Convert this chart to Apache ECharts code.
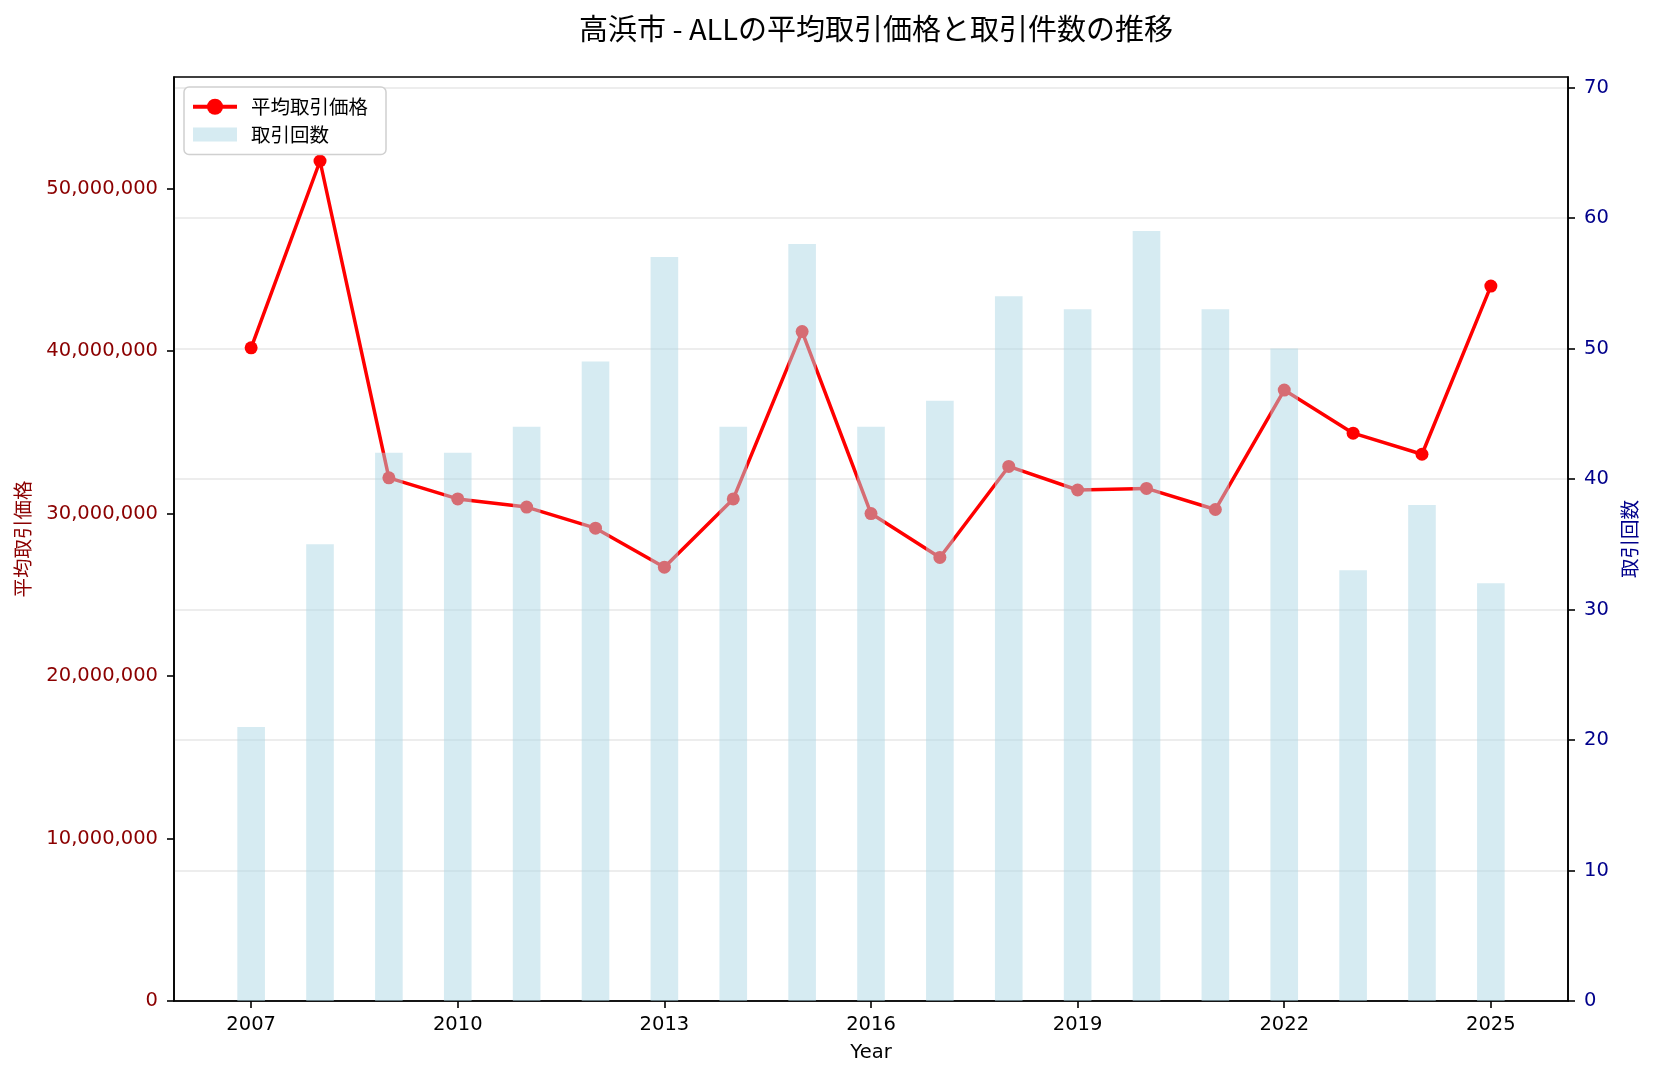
<!DOCTYPE html>
<html><head><meta charset="utf-8">
<script src="https://cdn.jsdelivr.net/npm/echarts@6/dist/echarts.min.js"></script>
<style>html,body{margin:0;padding:0;background:#fff}#c{width:1653px;height:1079px}</style>
</head><body><div id="c"></div>
<script>
const years = [2007,2008,2009,2010,2011,2012,2013,2014,2015,2016,2017,2018,2019,2020,2021,2022,2023,2024,2025];
const avgPrice = [40200000,51700000,32200000,30900000,30400000,29100000,26700000,30900000,41200000,30000000,27300000,32900000,31450000,31550000,30250000,37600000,34950000,33650000,44000000];
const counts = [21,35,42,42,44,49,57,44,58,44,46,54,53,59,53,50,33,38,32];
const xTicks = [2007,2010,2013,2016,2019,2022,2025];
const leftTicks = [0,10000000,20000000,30000000,40000000,50000000];
const rightTicks = [0,10,20,30,40,50,60,70];

const titleText = '高浜市 - ALLの平均取引価格と取引件数の推移';
const priceName = '平均取引価格';
const countName = '取引回数';
const xName = 'Year';

const CJK = '"Noto Sans CJK JP", "DejaVu Sans", sans-serif';
const LAT = '"DejaVu Sans", sans-serif';

const chart = echarts.init(document.getElementById('c'), null, {renderer: 'canvas'});
chart.setOption({
  animation: false,
  backgroundColor: '#fff',
  title: {
    text: titleText, left: 871, top: 9, textAlign: 'center',
    textStyle: {fontSize: 29, fontWeight: 'normal', color: '#000', fontFamily: CJK}
  },
  legend: {
    orient: 'vertical', left: 184, top: 87,
    backgroundColor: '#fff', borderColor: '#d0d0d0', borderWidth: 1.5, borderRadius: 5,
    padding: [10, 18, 10, 7], itemWidth: 44, itemHeight: 20, itemGap: 8,
    textStyle: {fontSize: 19.5, color: '#000', fontFamily: CJK, padding: [0,0,0,9]},
    data: [
      {name: priceName, lineStyle: {width: 4}},
      {name: countName, icon: 'path://M0,0L0.01,0M0,3L44,3L44,17L0,17ZM0,20L0.01,20'}
    ]
  },
  grid: {left: 174, right: 85, top: 77, bottom: 78, show: true, borderColor: '#000', borderWidth: 1.6, backgroundColor: 'transparent'},
  xAxis: {
    type: 'value', min: 2005.88, max: 2026.12,
    axisLine: {show: true, lineStyle: {color: '#000', width: 1.6}},
    axisTick: {show: true, length: 7, customValues: xTicks, lineStyle: {color: '#000', width: 1.6}},
    axisLabel: {customValues: xTicks, color: '#000', fontSize: 19.5, fontFamily: LAT, margin: 14, formatter: v => String(v)},
    splitLine: {show: false},
    name: xName, nameLocation: 'middle', nameGap: 42,
    nameTextStyle: {fontSize: 19.5, color: '#000', fontFamily: LAT}
  },
  yAxis: [{
    type: 'value', min: 0, max: v => v.max * 1.1, position: 'left',
    axisLine: {show: true, lineStyle: {color: '#000', width: 1.6}},
    axisTick: {show: true, length: 7, customValues: leftTicks, lineStyle: {color: '#000', width: 1.6}},
    axisLabel: {customValues: leftTicks, color: '#8B0000', fontSize: 19.5, fontFamily: LAT, margin: 16,
      formatter: v => Math.round(v).toLocaleString('en-US')},
    splitLine: {show: false},
    name: priceName, nameLocation: 'middle', nameRotate: 90, nameGap: 142,
    nameTextStyle: {fontSize: 19.5, color: '#8B0000', fontFamily: CJK}
  }, {
    type: 'value', min: 0, max: v => v.max * 1.2, interval: 10, position: 'right',
    axisLine: {show: true, lineStyle: {color: '#000', width: 1.6}},
    axisTick: {show: true, length: 7, customValues: rightTicks, lineStyle: {color: '#000', width: 1.6}},
    axisLabel: {customValues: rightTicks, color: '#00008B', fontSize: 19.5, fontFamily: LAT, margin: 16},
    splitLine: {show: true, lineStyle: {color: 'rgba(176,176,176,0.3)', width: 1.6}},
    name: countName, nameLocation: 'middle', nameRotate: 90, nameGap: 46,
    nameTextStyle: {fontSize: 19.5, color: '#00008B', fontFamily: CJK}
  }],
  series: [{
    name: priceName, type: 'line', xAxisIndex: 0, yAxisIndex: 0, z: 2,
    data: years.map((y, i) => [y, avgPrice[i]]),
    symbol: 'circle', symbolSize: 13,
    lineStyle: {color: '#ff0000', width: 3.5},
    itemStyle: {color: '#ff0000'}
  }, {
    name: countName, type: 'bar', xAxisIndex: 0, yAxisIndex: 1, z: 3,
    data: years.map((y, i) => [y, counts[i]]),
    barWidth: 27.6,
    itemStyle: {color: 'rgba(173,216,230,0.5)'}
  }]
});
</script></body></html>
